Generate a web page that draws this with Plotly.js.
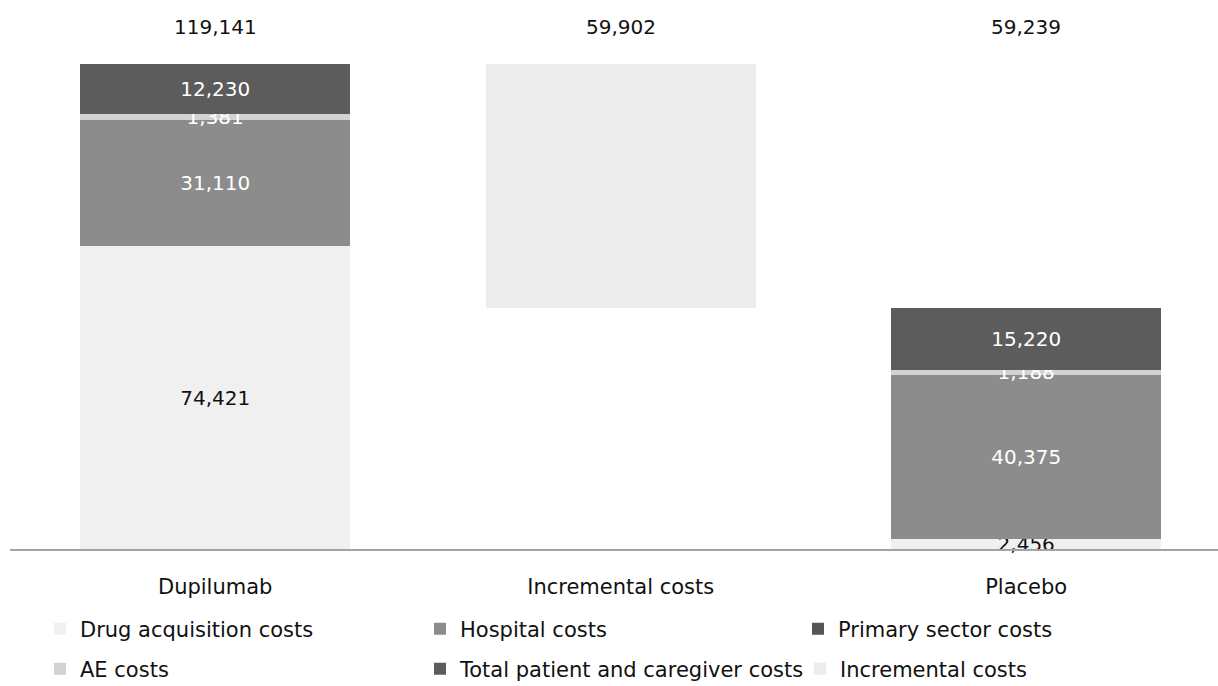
<!DOCTYPE html>
<html>
<head>
<meta charset="utf-8">
<script src="https://cdn.plot.ly/plotly-3.0.1.min.js"></script>
<style>
  html, body { margin: 0; padding: 0; background: #ffffff; }
  #chart { width: 1218px; height: 686px; }
</style>
</head>
<body>
<div id="chart"></div>
<script>
// Cost breakdown per arm (DKK), stacked bottom to top
const categories = ['Dupilumab', 'Incremental costs', 'Placebo'];

const drugAcquisition = [74421, null, 2456];
const hospital        = [31110, null, 40375];
const primarySector   = [null, null, null];
const aeCosts         = [1381, null, 1188];
const patientCarer    = [12230, null, 15220];

// Floating bar between the two totals
const incrementalBase  = [null, 59239, null];
const incrementalValue = [null, 59902, null];

// Totals printed above each column
const totals = [119141, 59902, 59239];

const FONT = 'DejaVu Sans, Verdana, sans-serif';
const fmt = v => (v === null ? '' : v.toLocaleString('en-US'));

function stackTrace(name, values, color, textColor, legendId) {
  return {
    type: 'bar',
    name: name,
    x: categories,
    y: values,
    marker: { color: color, line: { width: 0 } },
    text: values.map(fmt),
    texttemplate: '%{text}',
    textposition: 'inside',
    insidetextanchor: 'middle',
    textangle: 0,
    constraintext: 'none',
    cliponaxis: false,
    textfont: { family: FONT, size: 20, color: textColor },
    hoverinfo: 'skip',
    legend: legendId
  };
}

const traces = [
  stackTrace('Drug acquisition costs', drugAcquisition, '#f0f0f0', '#111111', 'legend'),
  stackTrace('Hospital costs', hospital, '#8c8c8c', '#ffffff', 'legend2'),
  stackTrace('Primary sector costs', primarySector, '#555555', '#ffffff', 'legend3'),
  stackTrace('AE costs', aeCosts, '#d2d2d2', '#ffffff', 'legend4'),
  stackTrace('Total patient and caregiver costs', patientCarer, '#5c5c5c', '#ffffff', 'legend5'),
  {
    type: 'bar',
    name: 'Incremental costs',
    x: categories,
    y: incrementalValue,
    base: incrementalBase,
    marker: { color: '#ececec', line: { width: 0 } },
    hoverinfo: 'skip',
    legend: 'legend6'
  }
];

// One legend box per entry so the entries sit in the two-row grid
function legendAt(xPaper, yPaper) {
  return {
    x: xPaper, y: yPaper,
    xanchor: 'left', yanchor: 'middle',
    orientation: 'v',
    bgcolor: 'rgba(0,0,0,0)',
    font: { family: FONT, size: 21, color: '#111111' },
    itemwidth: 30,
    borderwidth: 0
  };
}

const plotLeft = 10, plotWidth = 1208, plotTop = 20, plotHeight = 529;
const px = x => (x - plotLeft) / plotWidth;
const py = y => (plotTop + plotHeight - y) / plotHeight;

const annotations = totals.map((t, i) => ({
  x: categories[i],
  y: py(27),
  xref: 'x', yref: 'paper',
  text: fmt(t),
  showarrow: false,
  xanchor: 'center', yanchor: 'middle',
  font: { family: FONT, size: 20, color: '#111111' }
}));

const layout = {
  width: 1218,
  height: 686,
  paper_bgcolor: '#ffffff',
  plot_bgcolor: '#ffffff',
  barmode: 'stack',
  bargap: 0.334,
  margin: { l: plotLeft, r: 1218 - plotLeft - plotWidth, t: plotTop, b: 686 - plotTop - plotHeight, autoexpand: false },
  xaxis: {
    type: 'category',
    range: [-0.506, 2.473],
    showline: true,
    linecolor: '#a3a3a3',
    linewidth: 2,
    showgrid: false,
    zeroline: false,
    ticks: '',
    ticklabelstandoff: 18,
    tickfont: { family: FONT, size: 21, color: '#111111' },
    fixedrange: true
  },
  yaxis: {
    range: [0, 130000],
    visible: false,
    showgrid: false,
    zeroline: false,
    fixedrange: true
  },
  annotations: annotations,
  legend:  legendAt(px(40),  py(629)),
  legend2: legendAt(px(420), py(629)),
  legend3: legendAt(px(798), py(629)),
  legend4: legendAt(px(40),  py(669)),
  legend5: legendAt(px(420), py(669)),
  legend6: legendAt(px(800), py(669)),
  showlegend: true
};

Plotly.newPlot('chart', traces, layout, { displayModeBar: false, staticPlot: true });
</script>
</body>
</html>
